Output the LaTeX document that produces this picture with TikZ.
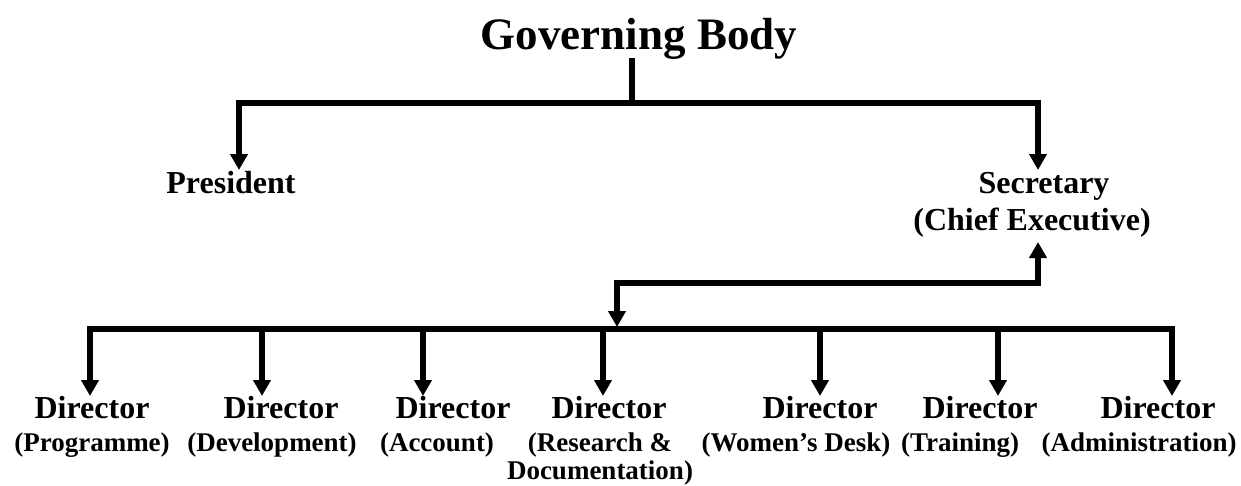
\documentclass[tikz,border=0pt]{standalone}
\usepackage{fontspec}
\setmainfont{Liberation Serif}
\usetikzlibrary{arrows.meta}
\begin{document}
\begin{tikzpicture}[x=1pt,y=-1pt,
  conn/.style={line width=5.5pt, line join=miter, line cap=butt},
  tipend/.style={-{Triangle[width=17pt,length=16pt]}},
  tipboth/.style={{Triangle[width=17pt,length=16pt]}-{Triangle[width=17pt,length=16pt]}},
  lbl/.style={inner sep=0pt, anchor=base, font=\bfseries\fontsize{32}{37}\selectfont},
  sublbl/.style={inner sep=0pt, anchor=base, font=\bfseries\fontsize{27}{28}\selectfont},
  ]
\useasboundingbox (0,0) rectangle (1241,485);

% title
\node[inner sep=0pt, anchor=base, font=\bfseries\fontsize{45}{50}\selectfont] (title) at (639,49) {Governing Body};
\coordinate (tb) at (632,58);
\coordinate (tbus) at (632,103);
\coordinate (pl) at (239,103);
\coordinate (pr) at (1038,103);
\coordinate (ptip) at (239,170);
\coordinate (stip) at (1038,170);

% level 2
\node[lbl] (pres) at (231,193) {President};
\node[lbl] (sec) at (1044,193) {Secretary};
\node[lbl] (chief) at (1032,230) {(Chief Executive)};

\draw[conn] (tb) -- (tbus);
\draw[conn,tipboth] (ptip) -- (pl) -- (pr) -- (stip);

% secretary to directors connector
\coordinate (suptip) at (1038,242);
\coordinate (cr) at (1038,283);
\coordinate (cl) at (617,283);
\coordinate (ctip) at (617,327);
\draw[conn,tipboth] (ctip) -- (cl) -- (cr) -- (suptip);

% directors bus
\coordinate (busl) at (90,329);
\coordinate (busr) at (1172,329);
\coordinate (tip1) at (90,396);
\coordinate (tip7) at (1172,396);
\draw[conn,tipboth] (tip1) -- (busl) -- (busr) -- (tip7);

\foreach \i/\ax in {2/262,3/423,4/603,5/820,6/998}{
  \coordinate (bus\i) at (\ax,329);
  \coordinate (tip\i) at (\ax,396);
  \draw[conn,tipend] (bus\i) -- (tip\i);
}

% director labels
\foreach \i/\dx/\sx/\sub in {1/92/92/(Programme),2/281/272/(Development),3/453/437/(Account),4/609/600/(Research \&,5/820/796/(Women’s Desk),6/980/960/(Training),7/1158/1139/(Administration)}{
  \node[lbl] (d\i) at (\dx,418) {Director};
  \node[sublbl] (s\i) at (\sx,451) {\sub};
}
\node[sublbl] (s4b) at (600,479) {Documentation)};
\end{tikzpicture}
\end{document}
